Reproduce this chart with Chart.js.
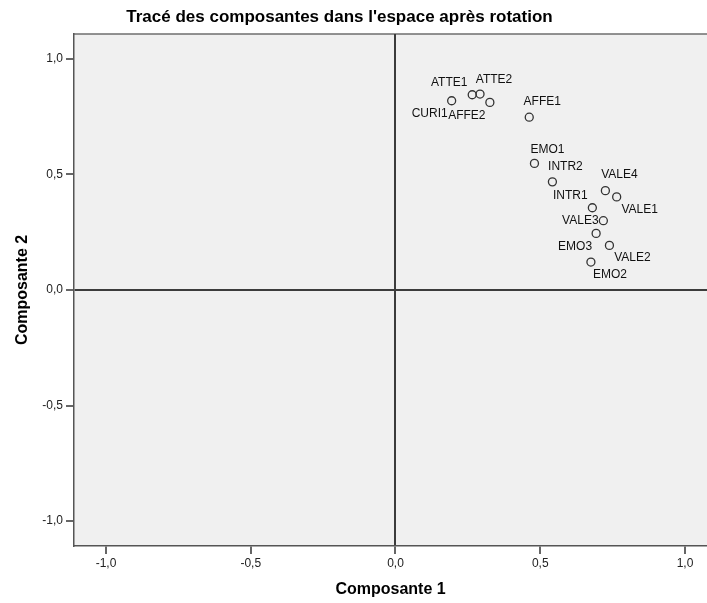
<!DOCTYPE html>
<html lang="fr">
<head>
  <meta charset="UTF-8">
  <title>Tracé des composantes</title>
  <script src="https://cdn.jsdelivr.net/npm/chart.js@4/dist/chart.umd.min.js"></script>
  <style>
    html, body { margin: 0; padding: 0; background: #fff; overflow: hidden; }
    canvas { display: block; }
  </style>
</head>
<body>
  <canvas id="plot" width="707" height="603"></canvas>
  <script>
    // données
    var names = ['CURI1', 'ATTE1', 'ATTE2', 'AFFE2', 'AFFE1', 'EMO1', 'INTR2',
                 'VALE4', 'VALE1', 'INTR1', 'VALE3', 'EMO3', 'VALE2', 'EMO2'];
    var comp1 = [0.194, 0.265, 0.292, 0.326, 0.462, 0.480, 0.542,
                 0.725, 0.764, 0.680, 0.718, 0.693, 0.739, 0.675];
    var comp2 = [0.819, 0.845, 0.848, 0.812, 0.748, 0.548, 0.468,
                 0.430, 0.403, 0.356, 0.300, 0.245, 0.193, 0.121];
    var tickValues = [-1, -0.5, 0, 0.5, 1];
    var chartTitle = "Tracé des composantes dans l'espace après rotation";

    // placement des étiquettes autour des points (décalage en px)
    var labelPlace = {
      CURI1: [-22, 13], ATTE1: [-23, -12], ATTE2: [14, -14], AFFE2: [-23, 13],
      AFFE1: [13, -15], EMO1: [13, -14], INTR2: [13, -15], VALE4: [14, -16],
      VALE1: [23, 13], INTR1: [-22, -12], VALE3: [-23, 0], EMO3: [-21, 13],
      VALE2: [23, 12], EMO2: [19, 13]
    };

    var pts = [];
    for (var i = 0; i < names.length; i++) {
      pts.push({ x: comp1[i], y: comp2[i] });
    }

    function fmt(v) {
      return v.toFixed(1).replace('.', ',');
    }

    var plotDeco = {
      id: 'plotDeco',
      beforeDraw: function (chart) {
        var a = chart.chartArea, ctx = chart.ctx;
        ctx.save();
        ctx.fillStyle = '#f0f0f0';
        ctx.fillRect(a.left, a.top, a.right - a.left, a.bottom - a.top);
        ctx.strokeStyle = '#6e6e6e';
        ctx.lineWidth = 1.5;
        ctx.beginPath();
        ctx.moveTo(a.left, a.top);
        ctx.lineTo(a.right, a.top);
        ctx.stroke();
        ctx.fillStyle = '#000';
        ctx.font = 'bold 17px "Liberation Sans", Arial, sans-serif';
        ctx.textAlign = 'center';
        ctx.textBaseline = 'middle';
        ctx.fillText(chartTitle, 339.5, 17);
        ctx.restore();
      },
      afterDatasetsDraw: function (chart) {
        var ctx = chart.ctx;
        var xs = chart.scales.x, ys = chart.scales.y;
        ctx.save();
        ctx.fillStyle = '#111';
        ctx.font = '12px "Liberation Sans", Arial, sans-serif';
        ctx.textAlign = 'center';
        ctx.textBaseline = 'middle';
        for (var i = 0; i < names.length; i++) {
          var off = labelPlace[names[i]] || [0, -12];
          var px = xs.getPixelForValue(comp1[i]);
          var py = ys.getPixelForValue(comp2[i]);
          ctx.fillText(names[i], px + off[0], py + off[1]);
        }
        ctx.restore();
      }
    };

    function zeroColor(ctx) {
      return ctx.tick && ctx.tick.value === 0 ? '#3c3c3c' : 'rgba(0,0,0,0)';
    }

    new Chart(document.getElementById('plot'), {
      type: 'scatter',
      data: {
        datasets: [{
          label: 'Composantes',
          data: pts,
          pointRadius: 4,
          pointHoverRadius: 4,
          pointBorderWidth: 1.3,
          pointBorderColor: '#333',
          pointBackgroundColor: 'rgba(0,0,0,0)'
        }]
      },
      options: {
        responsive: false,
        animation: false,
        layout: {
          autoPadding: false,
          padding: { top: 34, right: 0, left: 0, bottom: 0 }
        },
        plugins: {
          legend: { display: false },
          tooltip: { enabled: false }
        },
        scales: {
          x: {
            type: 'linear',
            min: -1.1105,
            max: 1.076,
            afterBuildTicks: function (s) {
              s.ticks = tickValues.map(function (v) { return { value: v }; });
            },
            afterFit: function (s) {
              s.height = 57;
              s.paddingLeft = 0;
              s.paddingRight = 0;
            },
            grid: {
              color: zeroColor,
              lineWidth: 2,
              tickColor: '#333',
              tickWidth: 1.5,
              tickLength: 8
            },
            border: { display: true, color: '#555', width: 1.5 },
            ticks: {
              padding: 2,
              color: '#222',
              font: { family: '"Liberation Sans", Arial, sans-serif', size: 12 },
              callback: function (v) { return fmt(v); }
            },
            title: {
              display: true,
              text: 'Composante 1',
              color: '#000',
              padding: { top: 4, bottom: 4 },
              font: { family: '"Liberation Sans", Arial, sans-serif', size: 16, weight: 'bold' }
            }
          },
          y: {
            type: 'linear',
            min: -1.108,
            max: 1.108,
            afterBuildTicks: function (s) {
              s.ticks = tickValues.map(function (v) { return { value: v }; });
            },
            afterFit: function (s) {
              s.width = 74;
              s.paddingTop = 0;
              s.paddingBottom = 0;
            },
            grid: {
              color: zeroColor,
              lineWidth: 2,
              tickColor: '#333',
              tickWidth: 1.5,
              tickLength: 8
            },
            border: { display: true, color: '#555', width: 1.5 },
            ticks: {
              padding: 3,
              color: '#222',
              font: { family: '"Liberation Sans", Arial, sans-serif', size: 12 },
              callback: function (v) { return fmt(v); }
            },
            title: {
              display: true,
              text: 'Composante 2',
              color: '#000',
              padding: { top: 13, bottom: 4 },
              font: { family: '"Liberation Sans", Arial, sans-serif', size: 16, weight: 'bold' }
            }
          }
        }
      },
      plugins: [plotDeco]
    });
  </script>
</body>
</html>
